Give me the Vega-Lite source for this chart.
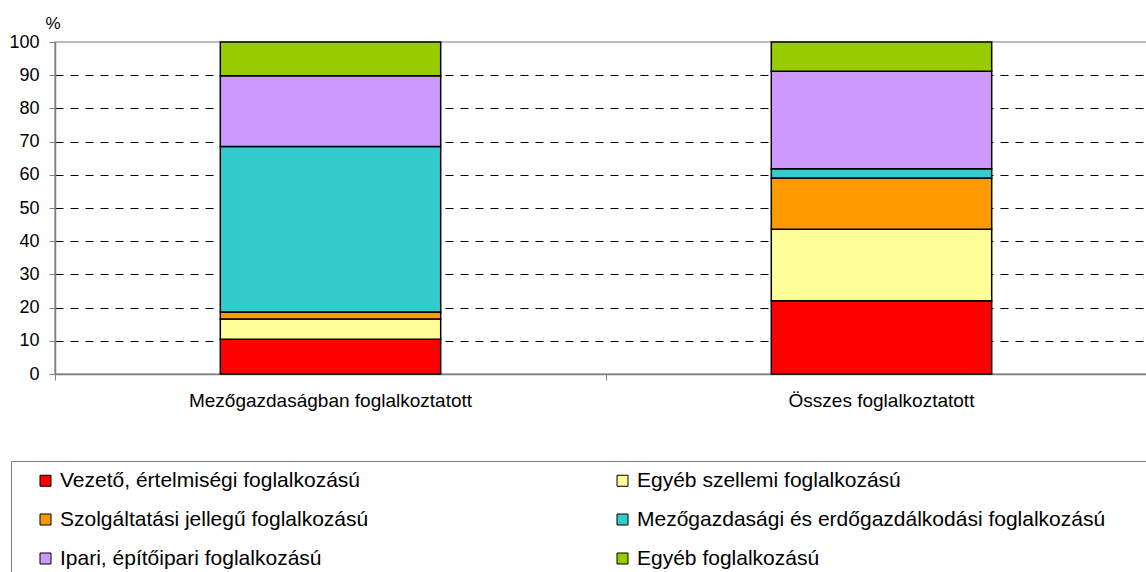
{
  "$schema": "https://vega.github.io/schema/vega-lite/v6.json",
  "autosize": {"type": "none"},
  "padding": {"left": 55, "top": 42, "right": 0, "bottom": 198},
  "width": 1102,
  "height": 332,
  "background": "white",
  "config": {
    "view": {"stroke": "#a6a6a6", "strokeWidth": 1.5},
    "font": "Liberation Sans",
    "axis": {"labelFont": "Liberation Sans", "titleFont": "Liberation Sans", "labelColor": "black", "titleColor": "black"}
  },
  "data": {
    "values": [
      {"cat": "Mezőgazdaságban foglalkoztatott", "occ": "Vezető, értelmiségi foglalkozású", "value": 10.5, "rank": 1},
      {"cat": "Mezőgazdaságban foglalkoztatott", "occ": "Egyéb szellemi foglalkozású", "value": 6.1, "rank": 2},
      {"cat": "Mezőgazdaságban foglalkoztatott", "occ": "Szolgáltatási jellegű foglalkozású", "value": 2.1, "rank": 3},
      {"cat": "Mezőgazdaságban foglalkoztatott", "occ": "Mezőgazdasági és erdőgazdálkodási foglalkozású", "value": 49.8, "rank": 4},
      {"cat": "Mezőgazdaságban foglalkoztatott", "occ": "Ipari, építőipari foglalkozású", "value": 21.3, "rank": 5},
      {"cat": "Mezőgazdaságban foglalkoztatott", "occ": "Egyéb foglalkozású", "value": 10.2, "rank": 6},
      {"cat": "Összes foglalkoztatott", "occ": "Vezető, értelmiségi foglalkozású", "value": 22.1, "rank": 1},
      {"cat": "Összes foglalkoztatott", "occ": "Egyéb szellemi foglalkozású", "value": 21.5, "rank": 2},
      {"cat": "Összes foglalkoztatott", "occ": "Szolgáltatási jellegű foglalkozású", "value": 15.4, "rank": 3},
      {"cat": "Összes foglalkoztatott", "occ": "Mezőgazdasági és erdőgazdálkodási foglalkozású", "value": 2.8, "rank": 4},
      {"cat": "Összes foglalkoztatott", "occ": "Ipari, építőipari foglalkozású", "value": 29.4, "rank": 5},
      {"cat": "Összes foglalkoztatott", "occ": "Egyéb foglalkozású", "value": 8.8, "rank": 6}
    ]
  },
  "mark": {"type": "bar", "width": {"band": 0.4}, "stroke": "black", "strokeWidth": 1.5},
  "encoding": {
    "x": {
      "field": "cat", "type": "nominal", "sort": null,
      "scale": {"paddingInner": 0, "paddingOuter": 0},
      "axis": {
        "title": null, "labelAngle": 0, "bandPosition": 0, "labelLimit": 600,
        "labelFontSize": 19, "labelPadding": 11, "tickSize": 6, "tickColor": "#808080",
        "domainColor": "#808080", "domainWidth": 1.5, "grid": false
      }
    },
    "y": {
      "field": "value", "type": "quantitative", "stack": "zero",
      "scale": {"domain": [0, 100], "nice": false},
      "axis": {
        "values": [0, 10, 20, 30, 40, 50, 60, 70, 80, 90, 100],
        "title": "%", "titleAngle": 0, "titleX": -10, "titleY": -19, "titleAlign": "left",
        "titleBaseline": "middle", "titleFontSize": 17, "titleFontWeight": "normal",
        "labelFontSize": 18, "labelPadding": 10, "tickSize": 6, "tickColor": "#808080",
        "domainColor": "#808080", "domainWidth": 1.5,
        "grid": true, "gridColor": "black", "gridDash": [8, 7], "gridWidth": 1,
        "gridOpacity": {"condition": {"test": "datum.value === 0 || datum.value === 100", "value": 0}, "value": 1}
      }
    },
    "color": {
      "field": "occ", "type": "nominal",
      "scale": {
        "domain": ["Vezető, értelmiségi foglalkozású", "Egyéb szellemi foglalkozású", "Szolgáltatási jellegű foglalkozású", "Mezőgazdasági és erdőgazdálkodási foglalkozású", "Ipari, építőipari foglalkozású", "Egyéb foglalkozású"],
        "range": ["#FF0000", "#FFFF99", "#FF9900", "#33CCCC", "#CC99FF", "#99CC00"]
      },
      "legend": {
        "title": " ", "titleOrient": "right", "titlePadding": 90,
        "orient": "none", "legendX": -44, "legendY": 419,
        "columns": 2, "direction": "horizontal",
        "strokeColor": "#808080", "padding": 9,
        "symbolType": "square", "symbolSize": 121, "symbolStrokeColor": "black", "symbolStrokeWidth": 1,
        "symbolOffset": 15, "labelOffset": 4,
        "labelFont": "Liberation Sans", "labelFontSize": 21, "labelColor": "black", "labelLimit": 700,
        "rowPadding": 17, "columnPadding": 228
      }
    },
    "order": {"field": "rank", "type": "quantitative"}
  }
}
